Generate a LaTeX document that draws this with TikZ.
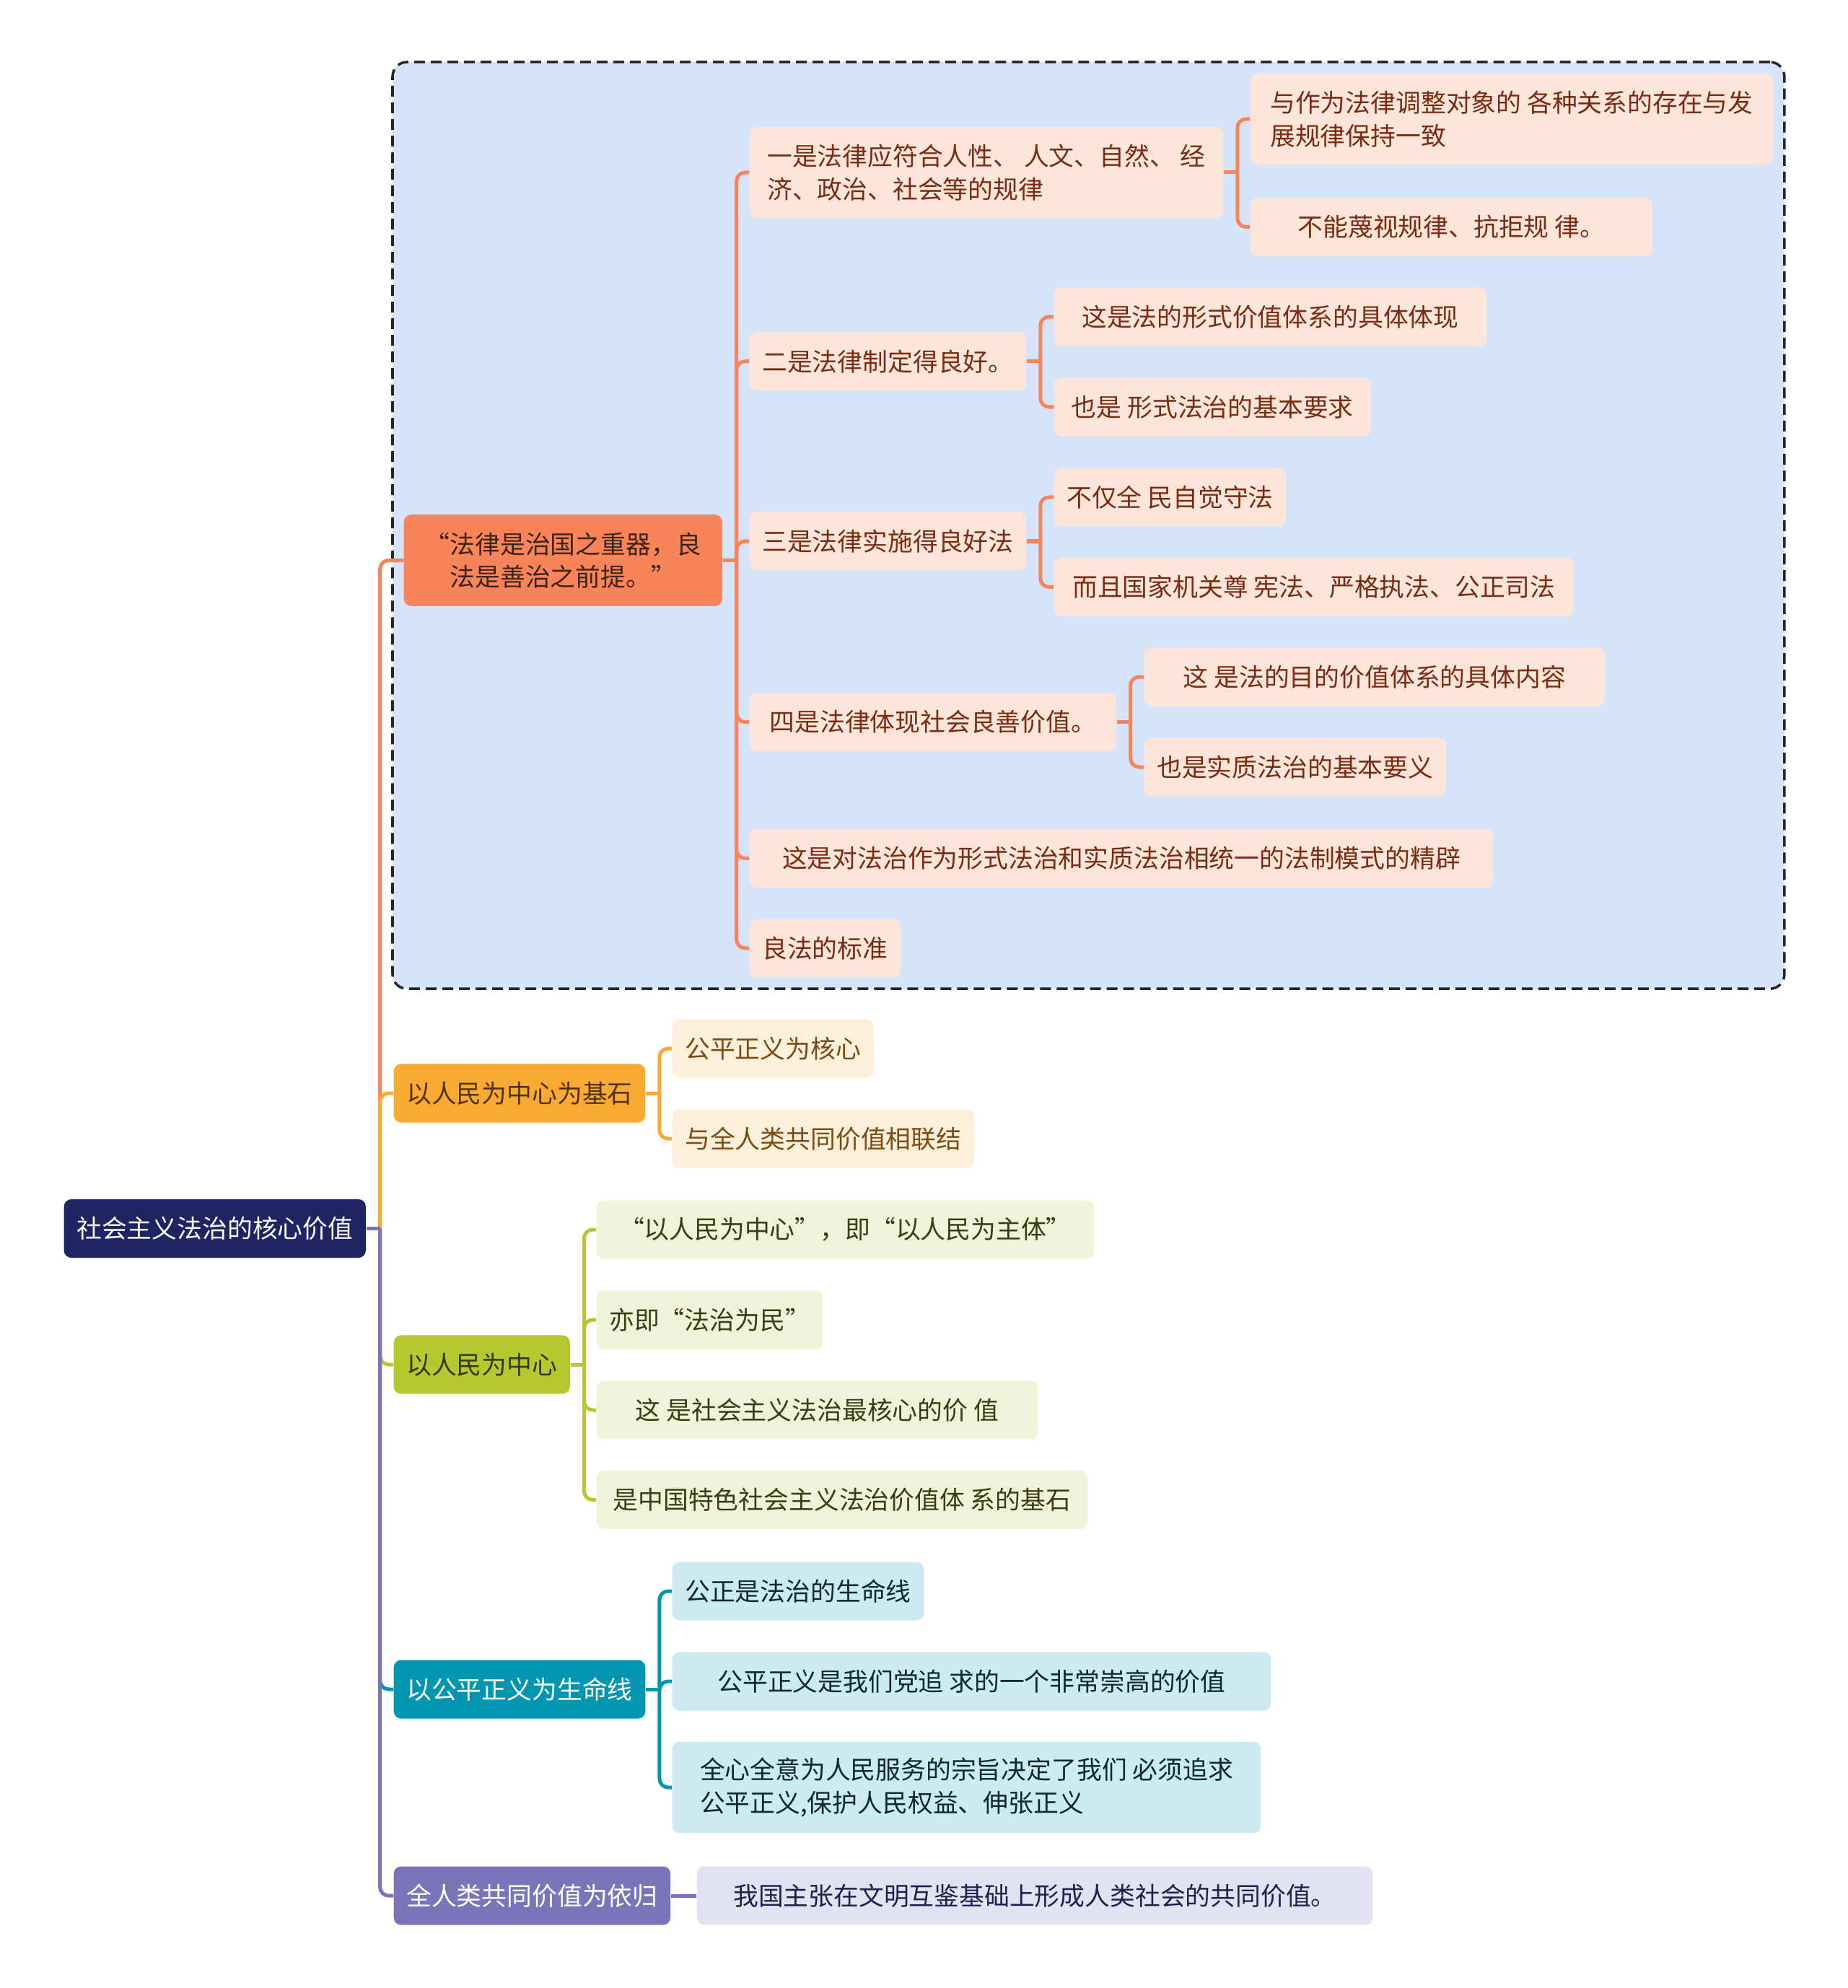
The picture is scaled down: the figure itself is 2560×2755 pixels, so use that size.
\documentclass[tikz,border=0pt]{standalone}
\usepackage{fontspec}
\setmainfont{Noto Sans CJK SC}
\usetikzlibrary{calc, fit, backgrounds}

\definecolor{rootc}{HTML}{1F2463}
\definecolor{grpc}{HTML}{D5E3FB}
\definecolor{redc}{HTML}{F9845A}
\definecolor{redt}{HTML}{3A2418}
\definecolor{redl}{HTML}{FDE5D9}
\definecolor{redlt}{HTML}{7A2C12}
\definecolor{orac}{HTML}{F9AA33}
\definecolor{orat}{HTML}{4F3300}
\definecolor{oral}{HTML}{FDF0DB}
\definecolor{oralt}{HTML}{7B4B12}
\definecolor{grnc}{HTML}{B5C92E}
\definecolor{grnt}{HTML}{333805}
\definecolor{grnl}{HTML}{EFF3DA}
\definecolor{grnlt}{HTML}{3A3C14}
\definecolor{tealc}{HTML}{0096B2}
\definecolor{teall}{HTML}{CDE9F1}
\definecolor{teallt}{HTML}{0E2630}
\definecolor{purc}{HTML}{7B74B9}
\definecolor{purl}{HTML}{E3E2F2}
\definecolor{purlt}{HTML}{221F4E}

% parent -> child connector: straight stub, then rounded elbow into the child
\newcommand\mmlink[3]{%
  \draw[link, #3] (#1.east) -- ++(19,0);
  \draw[link, #3, rounded corners=0.12cm] ($(#1.east)+(19,0)$) |- (#2.west);}

\begin{document}
\begin{tikzpicture}[
    x=0.01cm, y=-0.01cm,
    font=\fontsize{9.9pt}{13pt}\selectfont,
    box/.style={rounded corners=0.1cm, minimum height=0.81cm, inner xsep=0.176cm, inner ysep=0.12cm, anchor=west, align=left},
    tall/.style={minimum height=1.265cm},
    rootbox/.style={box, fill=rootc, text=white},
    redbox/.style={box, fill=redc, text=redt},
    redleaf/.style={box, fill=redl, text=redlt},
    orabox/.style={box, fill=orac, text=orat},
    oraleaf/.style={box, fill=oral, text=oralt},
    grnbox/.style={box, fill=grnc, text=grnt},
    grnleaf/.style={box, fill=grnl, text=grnlt},
    tealbox/.style={box, fill=tealc, text=white},
    tealleaf/.style={box, fill=teall, text=teallt},
    purbox/.style={box, fill=purc, text=white},
    purleaf/.style={box, fill=purl, text=purlt},
    link/.style={line width=0.05cm},
]
\useasboundingbox (0,0) rectangle (2560,2755);

% Root
\node[rootbox] (root) at (88,1702.5) {社会主义法治的核心价值};

% Branch 1: good law
\node[redbox, tall, minimum width=4.41cm] (br1) at (559,776.5) {“法律是治国之重器，良\\\hspace*{1em}法是善治之前提。”};
\node[redleaf, tall, minimum width=6.56cm] (a) at (1038,239) {一是法律应符合人性、 人文、自然、 经\\济、政治、社会等的规律};
\node[redleaf, tall, minimum width=7.24cm] (a1) at (1732,165) {与作为法律调整对象的 各种关系的存在与发\\展规律保持一致};
\node[redleaf, minimum width=5.57cm] (a2) at (1732,314.5) {不能蔑视规律、抗拒规 律。};
\node[redleaf] (b) at (1038,500.7) {二是法律制定得良好。};
\node[redleaf, minimum width=5.99cm] (b1) at (1460,439) {这是法的形式价值体系的具体体现};
\node[redleaf, minimum width=4.39cm] (b2) at (1460,564) {也是 形式法治的基本要求};
\node[redleaf] (c) at (1038,750) {三是法律实施得良好法};
\node[redleaf] (c1) at (1460,689) {不仅全 民自觉守法};
\node[redleaf, minimum width=7.2cm] (c2) at (1460,813.5) {而且国家机关尊 宪法、严格执法、公正司法};
\node[redleaf, minimum width=5.08cm] (d) at (1038,1000.6) {四是法律体现社会良善价值。};
\node[redleaf, minimum width=6.38cm] (d1) at (1585,938) {这 是法的目的价值体系的具体内容};
\node[redleaf] (d2) at (1585,1063) {也是实质法治的基本要义};
\node[redleaf, minimum width=10.3cm] (e) at (1038,1189.5) {这是对法治作为形式法治和实质法治相统一的法制模式的精辟};
\node[redleaf] (f) at (1038,1314) {良法的标准};

% Branch 2
\node[orabox] (br2) at (545,1515) {以人民为中心为基石};
\node[oraleaf] (g1) at (931,1453) {公平正义为核心};
\node[oraleaf] (g2) at (931,1578) {与全人类共同价值相联结};

% Branch 3
\node[grnbox] (br3) at (545,1891) {以人民为中心};
\node[grnleaf, minimum width=6.89cm] (h1) at (826,1704) {“以人民为中心”，即“以人民为主体”};
\node[grnleaf] (h2) at (826,1829) {亦即“法治为民”};
\node[grnleaf, minimum width=6.11cm] (h3) at (826,1954) {这 是社会主义法治最核心的价 值};
\node[grnleaf, minimum width=6.8cm] (h4) at (826,2078.5) {是中国特色社会主义法治价值体 系的基石};

% Branch 4
\node[tealbox] (br4) at (545,2341) {以公平正义为生命线};
\node[tealleaf] (i1) at (931,2205) {公正是法治的生命线};
\node[tealleaf, minimum width=8.29cm] (i2) at (931,2330) {公平正义是我们党追 求的一个非常崇高的价值};
\node[tealleaf, tall, minimum width=8.15cm] (i3) at (931,2477) {全心全意为人民服务的宗旨决定了我们 必须追求\\公平正义,保护人民权益、伸张正义};

% Branch 5
\node[purbox] (br5) at (545,2627) {全人类共同价值为依归};
\node[purleaf, minimum width=9.36cm] (j1) at (965,2627) {我国主张在文明互鉴基础上形成人类社会的共同价值。};

% Connectors
\mmlink{root}{br1}{redc}
\mmlink{root}{br2}{orac}
\mmlink{root}{br3}{grnc}
\mmlink{root}{br4}{tealc}
\mmlink{root}{br5}{purc}
\foreach \c in {a,b,c,d,e,f} {\mmlink{br1}{\c}{redc}}
\foreach \c in {a1,a2} {\mmlink{a}{\c}{redc}}
\foreach \c in {b1,b2} {\mmlink{b}{\c}{redc}}
\foreach \c in {c1,c2} {\mmlink{c}{\c}{redc}}
\foreach \c in {d1,d2} {\mmlink{d}{\c}{redc}}
\foreach \c in {g1,g2} {\mmlink{br2}{\c}{orac}}
\foreach \c in {h1,h2,h3,h4} {\mmlink{br3}{\c}{grnc}}
\foreach \c in {i1,i2,i3} {\mmlink{br4}{\c}{tealc}}
\draw[link, purc] (br5.east) -- (j1.west);

\begin{scope}[on background layer]
    \node[draw=black!85, fill=grpc, dashed, dash pattern=on 0.15cm off 0.08cm, line width=0.035cm, rounded corners=0.2cm, fit=(br1)(a1)(e)(f), inner sep=0.15cm] (grp) {};
\end{scope}
\end{tikzpicture}
\end{document}
